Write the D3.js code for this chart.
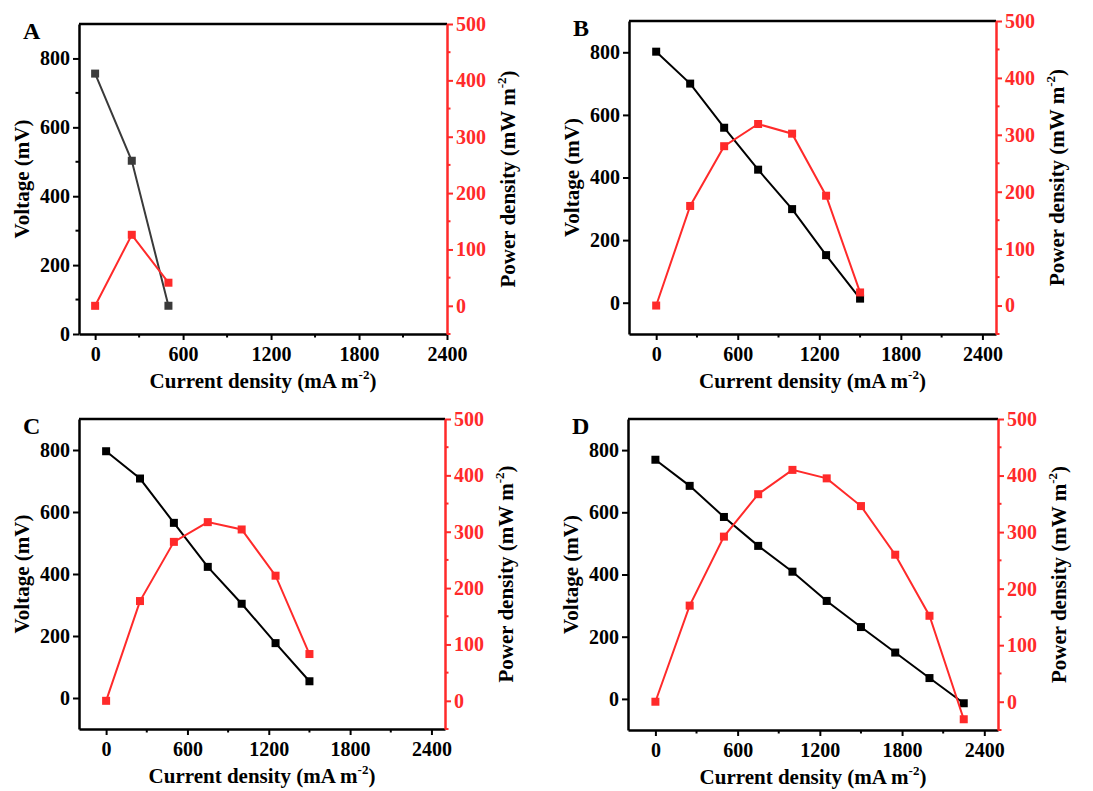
<!DOCTYPE html>
<html>
<head>
<meta charset="utf-8">
<script src="https://cdn.jsdelivr.net/npm/d3@7"></script>
<style>
  body { margin: 0; background: white; }
  svg { display: block; }
</style>
</head>
<body>
<div id="chart"></div>
<script>
// current density steps (mA m-2)
const currentA = [0, 250, 500];
const currentBC = [0, 250, 500, 750, 1000, 1250, 1500];
const currentD = [0, 250, 500, 750, 1000, 1250, 1500, 1750, 2000, 2250];

// voltage (mV)
const voltageA = [756, 503, 82];
const voltageB = [802, 700, 559, 425, 299, 152, 13];
const voltageC = [796, 708, 565, 423, 304, 177, 54];
const voltageD = [769, 685, 585, 492, 409, 315, 231, 149, 67, -14];

// power density (mW m-2)
const powerA = [0, 126, 41];
const powerB = [0, 175, 280, 319, 302, 193, 23];
const powerC = [0, 177, 282, 317, 304, 222, 83];
const powerD = [0, 170, 292, 367, 410, 395, 346, 260, 152, -31];

const xTicks = [0, 600, 1200, 1800, 2400];
const xMinor = [300, 900, 1500, 2100];
const vTicks = [0, 200, 400, 600, 800];
const pTicks = [0, 100, 200, 300, 400, 500];

const panels = [
  { letter: "A", x: currentA, v: voltageA, p: powerA, lineColor: "#3a3a3a",
    box: { l: 79, r: 447, t: 24, b: 334 }, xDom: [-110, 2400], vDom: [0, 900] },
  { letter: "B", x: currentBC, v: voltageB, p: powerB, lineColor: "#000",
    box: { l: 629, r: 996, t: 21, b: 334 }, xDom: [-200, 2500], vDom: [-100, 900] },
  { letter: "C", x: currentBC, v: voltageC, p: powerC, lineColor: "#000",
    box: { l: 79, r: 445, t: 419, b: 729 }, xDom: [-200, 2500], vDom: [-100, 900] },
  { letter: "D", x: currentD, v: voltageD, p: powerD, lineColor: "#000",
    box: { l: 628, r: 998, t: 419, b: 730 }, xDom: [-200, 2500], vDom: [-100, 900] }
];

const RED = "#ff2a2a";
const FONT = "'Liberation Serif', 'Times New Roman', serif";

const svg = d3.select("#chart")
  .append("svg")
  .attr("width", 1093)
  .attr("height", 791)
  .style("background", "white")
  .style("font-family", FONT)
  .style("font-weight", "bold");

function styleAxis(g, color) {
  g.select(".domain").attr("stroke", color).attr("stroke-width", 2.5);
  g.selectAll(".tick line").attr("stroke", color).attr("stroke-width", 2);
  g.selectAll(".tick text")
    .attr("fill", color)
    .attr("font-size", "20px")
    .attr("font-family", FONT)
    .attr("font-weight", "bold");
}

function minorTicks(g, vals, scale, dir, color) {
  g.selectAll(".minor")
    .data(vals)
    .enter()
    .append("line")
      .attr("class", "minor")
      .attr("stroke", color)
      .attr("stroke-width", 2)
      .attr("x1", d => dir === "x" ? scale(d) : 0)
      .attr("x2", d => dir === "x" ? scale(d) : (dir === "left" ? -3.5 : 3.5))
      .attr("y1", d => dir === "x" ? 0 : scale(d))
      .attr("y2", d => dir === "x" ? 3.5 : scale(d));
}

const fmt = d3.format("d");

panels.forEach(pn => {
  const b = pn.box;
  const x = d3.scaleLinear().domain(pn.xDom).range([b.l, b.r]);
  const yv = d3.scaleLinear().domain(pn.vDom).range([b.b, b.t]);
  const yp = d3.scaleLinear().domain([-50, 500]).range([b.b, b.t]);

  const vMinor = d3.range(pn.vDom[0] + 100, 900, 200).filter(d => !vTicks.includes(d));
  const pMinor = [-50, 50, 150, 250, 350, 450];

  // top frame
  svg.append("line")
    .attr("x1", b.l).attr("x2", b.r)
    .attr("y1", b.t).attr("y2", b.t)
    .attr("stroke", "#000").attr("stroke-width", 2.5);

  const gx = svg.append("g")
    .attr("transform", `translate(0,${b.b})`)
    .call(d3.axisBottom(x).tickValues(xTicks).tickFormat(fmt).tickSize(6).tickSizeOuter(0).tickPadding(7));
  styleAxis(gx, "#000");
  minorTicks(gx, xMinor, x, "x", "#000");

  const gl = svg.append("g")
    .attr("transform", `translate(${b.l},0)`)
    .call(d3.axisLeft(yv).tickValues(vTicks).tickFormat(fmt).tickSize(6).tickSizeOuter(0).tickPadding(3));
  styleAxis(gl, "#000");
  minorTicks(gl, vMinor, yv, "left", "#000");

  const gr = svg.append("g")
    .attr("transform", `translate(${b.r},0)`)
    .call(d3.axisRight(yp).tickValues(pTicks).tickFormat(fmt).tickSize(6).tickSizeOuter(0).tickPadding(3));
  styleAxis(gr, RED);
  minorTicks(gr, pMinor, yp, "right", RED);

  const vData = pn.x.map((c, i) => ({ c, val: pn.v[i] }));
  const pData = pn.x.map((c, i) => ({ c, val: pn.p[i] }));

  // voltage curve
  svg.append("path")
    .datum(vData)
    .attr("fill", "none")
    .attr("stroke", pn.lineColor)
    .attr("stroke-width", 2)
    .attr("d", d3.line().x(d => x(d.c)).y(d => yv(d.val)));

  svg.append("g").selectAll("rect")
    .data(vData)
    .enter()
    .append("rect")
      .attr("x", d => x(d.c) - 4)
      .attr("y", d => yv(d.val) - 4)
      .attr("width", 8)
      .attr("height", 8)
      .attr("fill", pn.lineColor);

  // power curve
  svg.append("path")
    .datum(pData)
    .attr("fill", "none")
    .attr("stroke", RED)
    .attr("stroke-width", 2)
    .attr("d", d3.line().x(d => x(d.c)).y(d => yp(d.val)));

  svg.append("g").selectAll("rect")
    .data(pData)
    .enter()
    .append("rect")
      .attr("x", d => x(d.c) - 4)
      .attr("y", d => yp(d.val) - 4)
      .attr("width", 8)
      .attr("height", 8)
      .attr("fill", RED);

  // panel letter
  svg.append("text")
    .attr("x", b.l - 56)
    .attr("y", b.t + 15)
    .attr("font-size", "24px")
    .text(pn.letter);

  // x title
  const xt = svg.append("text")
    .attr("x", (b.l + b.r) / 2)
    .attr("y", b.b + 54)
    .attr("text-anchor", "middle")
    .attr("font-size", "21px");
  xt.append("tspan").text("Current density (mA m");
  xt.append("tspan").attr("font-size", "13px").attr("dy", -9).text("-2");
  xt.append("tspan").attr("dy", 9).text(")");

  // left title
  svg.append("text")
    .attr("transform", `translate(${b.l - 50},${(b.t + b.b) / 2}) rotate(-90)`)
    .attr("text-anchor", "middle")
    .attr("font-size", "21px")
    .text("Voltage (mV)");

  // right title
  const rt = svg.append("text")
    .attr("transform", `translate(${b.r + 68},${(b.t + b.b) / 2}) rotate(-90)`)
    .attr("text-anchor", "middle")
    .attr("font-size", "21px");
  rt.append("tspan").text("Power density (mW m");
  rt.append("tspan").attr("font-size", "13px").attr("dy", -9).text("-2");
  rt.append("tspan").attr("dy", 9).text(")");
});
</script>
</body>
</html>
